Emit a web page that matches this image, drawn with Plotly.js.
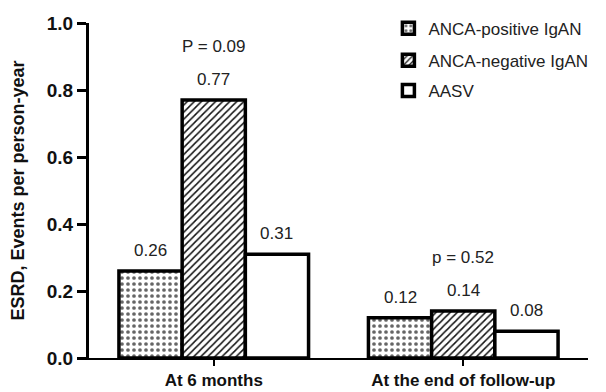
<!DOCTYPE html>
<html><head><meta charset="utf-8">
<script src="https://cdn.plot.ly/plotly-3.0.1.min.js"></script>
<style>body{margin:0;padding:0;background:#fff}#chart{width:606px;height:392px}</style>
</head><body><div id="chart"></div>
<script>
const categories = ["At 6 months", "At the end of follow-up"];
const seriesNames = ["ANCA-positive IgAN", "ANCA-negative IgAN", "AASV"];
const ancaPositive = [0.26, 0.12];
const ancaNegative = [0.77, 0.14];
const aasv = [0.31, 0.08];
const pValues = ["P = 0.09", "p = 0.52"];
const pValueY = [0.93, 0.30];
const yTicks = [0.0, 0.2, 0.4, 0.6, 0.8, 1.0];
const yTickLabels = ["0.0", "0.2", "0.4", "0.6", "0.8", "1.0"];

const font = "Liberation Sans, Arial, sans-serif";
const allSeries = [ancaPositive, ancaNegative, aasv];
const patterns = [
  {shape: ".", fgcolor: "#666", bgcolor: "#fff", size: 6, solidity: 0.3},
  {shape: "/", fgcolor: "#111", bgcolor: "#fff", size: 5, solidity: 0.3},
  {shape: "", bgcolor: "#fff"}
];
const legendIds = ["legend", "legend2", "legend3"];

const traces = allSeries.map((vals, i) => ({
  type: "bar",
  x: categories,
  y: vals,
  name: seriesNames[i],
  legend: legendIds[i],
  marker: {color: "#fff", pattern: patterns[i], line: {color: "#000", width: 3.5}},
  hoverinfo: "skip"
}));

const annotations = [];
const offsets = [-63, 0, 63];
allSeries.forEach((vals, i) => {
  vals.forEach((v, j) => {
    annotations.push({x: categories[j], y: v, xref: "x", yref: "y", text: v.toFixed(2),
      showarrow: false, yanchor: "bottom", xshift: offsets[i], yshift: 9,
      font: {family: font, size: 17, color: "#222"}});
  });
});
pValues.forEach((t, j) => {
  annotations.push({x: categories[j], y: pValueY[j], xref: "x", yref: "y", text: t,
    showarrow: false, font: {family: font, size: 17, color: "#222"}});
});

const legendBase = {x: 0.6, xanchor: "left", yanchor: "middle", bgcolor: "rgba(0,0,0,0)",
  font: {family: font, size: 17, color: "#222"}, itemwidth: 30};
const layout = {
  width: 606, height: 392,
  margin: {l: 89, r: 18, t: 22, b: 34},
  paper_bgcolor: "#fff", plot_bgcolor: "#fff",
  barmode: "group", bargap: 0.24, bargroupgap: 0,
  showlegend: true,
  legend: Object.assign({}, legendBase, {y: 0.98}),
  legend2: Object.assign({}, legendBase, {y: 0.885}),
  legend3: Object.assign({}, legendBase, {y: 0.795}),
  xaxis: {range: [-0.5, 1.5], showline: true, linecolor: "#000", linewidth: 2,
    ticks: "outside", ticklen: 6, tickwidth: 2, tickcolor: "#000",
    showgrid: false, zeroline: false,
    tickfont: {family: font, size: 17, color: "#111", weight: "bold"}},
  yaxis: {range: [0, 1.0], showline: true, linecolor: "#000", linewidth: 3,
    ticks: "outside", ticklen: 9, tickwidth: 3, tickcolor: "#000",
    tickvals: yTicks, ticktext: yTickLabels,
    showgrid: false, zeroline: false,
    tickfont: {family: font, size: 19, color: "#111", weight: "bold"},
    title: {text: "ESRD, Events per person-year", standoff: 18,
      font: {family: font, size: 18, color: "#111", weight: "bold"}}},
  annotations: annotations
};
Plotly.newPlot("chart", traces, layout, {displayModeBar: false, staticPlot: true});
</script></body></html>
